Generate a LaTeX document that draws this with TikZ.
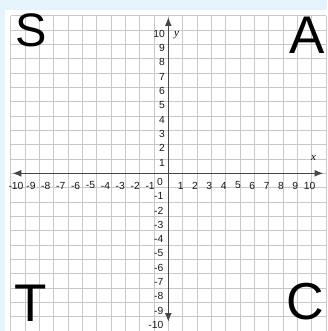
\documentclass[tikz,border=0pt]{standalone}
\usepackage{fontspec}
\setmainfont{Liberation Sans}
\newfontfamily\serifit{Liberation Serif}
\usetikzlibrary{arrows.meta}
\definecolor{bgblue}{RGB}{229,244,252}
\definecolor{gridgray}{RGB}{200,200,200}
\definecolor{axisgray}{RGB}{70,70,70}
\definecolor{labgray}{RGB}{25,25,25}
\tikzset{
  gridline/.style={draw=gridgray,line width=0.8pt},
  axisline/.style={draw=axisgray,line width=1.5pt,{Latex[length=9pt,width=7pt]}-{Latex[length=9pt,width=7pt]}},
  ticklab/.style={inner sep=0pt,text=labgray,font=\fontsize{10.3}{10.3}\selectfont},
  biglet/.style={inner sep=0pt,text=black},
  axlab/.style={inner sep=0pt,text=black,font=\fontsize{11}{11}\serifit\itshape}
}
\begin{document}
\begin{tikzpicture}[x=1pt,y=-1pt]
\useasboundingbox (0,0) rectangle (327,331);
\fill[bgblue] (0,0) rectangle (327,331);
\fill[white] (5,10) rectangle (327,331);
\def\ox{168.3}\def\oy{173.3}\def\u{14.33}
% grid
\foreach \i in {-11,...,11}{
  \draw[gridline] ({\ox+\u*\i},15.7) -- ({\ox+\u*\i},330.9);
  \draw[gridline] (10.7,{\oy-\u*\i}) -- (326,{\oy-\u*\i});
}
% axes
\coordinate (xl) at (12.3,\oy);
\coordinate (xr) at (323.5,\oy);
\coordinate (yt) at (\ox,17);
\coordinate (yb) at (\ox,322);
\draw[axisline] (xl) -- (xr);
\draw[axisline] (yt) -- (yb);
% x tick labels
\foreach \n in {-10,...,-1}{
  \node[ticklab] (xn\n) at ({16+(\n+10)*14.9},185.5) {-\the\numexpr-\n\relax};
}
\foreach \n in {1,...,10}{
  \node[ticklab] (xp\n) at ({\ox+\u*\n-2},185.5) {\n};
}
\node[ticklab] (o) at (160,181.5) {0};
% y tick labels
\foreach \n in {1,...,10}{
  \node[ticklab,anchor=east] (yp\n) at (165,{\oy-\u*\n+3.5}) {\n};
}
\foreach \n in {-10,...,-1}{
  \node[ticklab,anchor=east] (yn\n) at (163.5,{\oy-\u*\n+8.5}) {-\the\numexpr-\n\relax};
}
% axis names
\node[axlab] (xname) at (313.5,158) {x};
\node[axlab] (yname) at (176.5,35) {y};
% quadrant letters
\node[biglet,font=\fontsize{47}{47}\selectfont] (S) at (31.5,30.5) {S};
\node[biglet,font=\fontsize{53}{53}\selectfont] (A) at (307.5,35) {A};
\node[biglet,font=\fontsize{53}{53}\selectfont] (T) at (31,303) {T};
\node[biglet,font=\fontsize{52}{52}\selectfont] (C) at (305,302) {C};
\end{tikzpicture}
\end{document}
